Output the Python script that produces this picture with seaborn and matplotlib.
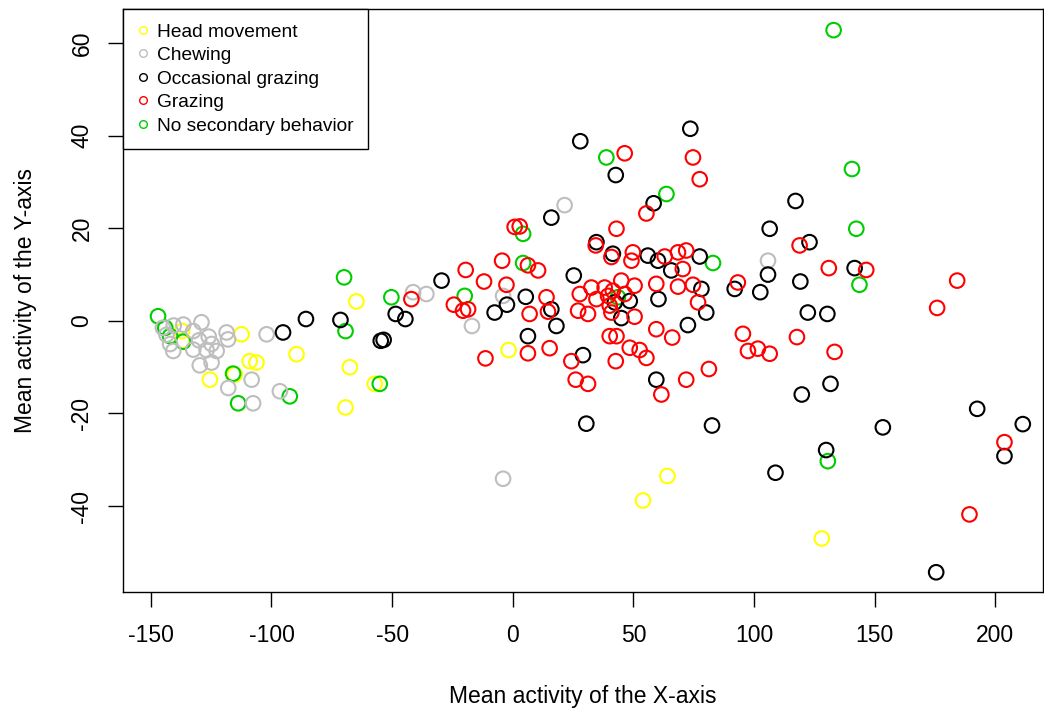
import pandas as pd
import seaborn as sns
import matplotlib
matplotlib.use("Agg")
from matplotlib import pyplot as plt
from matplotlib.lines import Line2D

# values
head_x = [-137, -137, -112.4, -89.6, -109, -106.2, -125.5, -115.2, -64.8, -67.5,
          -57.2, -69.3, -1.7, 64.1, 54, 128.1]
head_y = [-2.2, -4.3, -2.9, -7.2, -8.7, -9, -12.7, -11.6, 4.2, -10,
          -13.6, -18.7, -6.3, -33.5, -38.8, -47]

chew_x = [-145, -143.5, -142, -140.7, -140.5, -136.5, -129, -132.4, -126, -130,
          -124.8, -126.9, -122.7, -132.4, -129.7, -124.8, -118.6, -118, -102, -108.2,
          -117.9, -96.5, -107.6, -41.3, -35.8, -16.9, -4, 21.5, 105.8, -4]
chew_y = [-1.5, -3.0, -5.0, -6.5, -1.0, -0.8, -0.3, -2.2, -3.4, -4.2,
          -5.0, -6.3, -6.5, -6.2, -9.6, -9.0, -2.5, -4.0, -2.9, -12.7,
          -14.5, -15.2, -17.8, 6.2, 5.8, -1.1, 5.4, 25, 13, -34.1]

occ_x = [-95.2, -85.7, -71.4, -48.5, -44.5, -54.7, -53.5, -29.5, -7.5, -2.4,
         16, 58.4, 28, 42.7, 73.6, 34.7, 41.5, 56, 60.2, 65.7,
         72.6, 25.3, 5.4, 16, 18.1, 6.3, 29.1, 42.3, 48.5, 45,
         60.4, 59.5, 117.2, 106.5, 123, 77.5, 105.8, 141.7, 92, 102.6,
         119.2, 78.2, 80.2, 122.3, 130.4, 131.7, 119.8, 192.5, 153.4, 211.4,
         203.8, 175.5, 30.5, 82.6, 129.9, 108.9]
occ_y = [-2.5, 0.4, 0.2, 1.5, 0.4, -4.3, -4.1, 8.7, 1.8, 3.5,
         22.3, 25.4, 38.8, 31.5, 41.5, 17, 14.5, 14.1, 13, 10.9,
         -0.9, 9.8, 5.2, 2.5, -1.1, -3.3, -7.4, 4, 4.3, 0.6,
         4.7, -12.7, 25.9, 19.9, 17, 13.9, 10, 11.4, 6.9, 6.2,
         8.5, 6.9, 1.8, 1.8, 1.5, -13.6, -15.9, -19, -23, -22.3,
         -29.2, -54.3, -22.2, -22.6, -27.9, -32.8]

graz_x = [-42, -19.5, -11.9, -4.4, -2.6, -24.4, -20.6, -18.5, -11.3, 0.8,
          2.9, 55.4, 46.4, 74.7, 77.5, 43, 34.4, 40.9, 49.8, 49.2,
          63, 68.5, 71.9, 70.5, 68.5, 6.3, 10.5, 14, 14.6, 7,
          6.3, 15.3, 24.3, 26.1, 31.2, 32.6, 27.8, 38.1, 45, 50.5,
          34.7, 39.5, 41.5, 46.4, 40.2, 27.1, 31.2, 50.5, 40.9, 59.5,
          59.5, 66.1, 40.2, 43, 48.5, 52.6, 55.4, 42.7, 61.6, 71.9,
          118.9, 131, 146.5, 93.3, 74.7, 76.8, 95.4, 97.5, 101.6, 106.5,
          117.8, 133.4, 81.3, 184.2, 175.9, 203.8, 189.3]
graz_y = [4.7, 11, 8.5, 13, 7.8, 3.5, 2.2, 2.5, -8.1, 20.3,
          20.4, 23.2, 36.2, 35.3, 30.6, 19.9, 16.3, 13.8, 14.8, 13,
          13.9, 14.8, 15.2, 11.2, 7.4, 12, 10.9, 5.1, 2, 1.5,
          -7, -5.9, -8.7, -12.7, -13.6, 7.2, 5.8, 7.2, 8.7, 7.6,
          4.7, 5.4, 6.5, 5.8, 3.3, 2.2, 1.5, 0.9, 1.8, 8,
          -1.8, -3.6, -3.3, -3.3, -5.8, -6.3, -8, -8.7, -15.9, -12.7,
          16.3, 11.4, 11, 8.3, 7.8, 4, -2.8, -6.5, -6, -7.1,
          -3.5, -6.7, -10.4, 8.7, 2.8, -26.2, -41.8]

none_x = [-147, -144, -142, -136.6, -115.9, -113.8, -92.4, -69.9, -69.3, -50.3,
          -55.1, -19.9, 4.3, 4.3, 63.7, 38.8, 133, 140.6, 142.4, 83,
          143.7, 43.6, 130.6]
none_y = [1, -1.5, -3.3, -4.5, -11.4, -17.8, -16.3, 9.4, -2.2, 5.1,
          -13.6, 5.4, 18.8, 12.5, 27.4, 35.3, 62.8, 32.8, 19.9, 12.5,
          7.8, 5.1, -30.3]

labels = ["Head movement", "Chewing", "Occasional grazing", "Grazing", "No secondary behavior"]
colors = ["#FFFF00", "#BEBEBE", "#000000", "#FF0000", "#00CD00"]
palette = dict(zip(labels, colors))

# drawing order (later ones sit on top)
groups = [("Head movement", head_x, head_y),
          ("No secondary behavior", none_x, none_y),
          ("Chewing", chew_x, chew_y),
          ("Occasional grazing", occ_x, occ_y),
          ("Grazing", graz_x, graz_y)]
df = pd.concat([pd.DataFrame({"x": gx, "y": gy, "behavior": name}) for name, gx, gy in groups],
               ignore_index=True)

sns.set_style("white")
plt.rcParams["font.family"] = ["Liberation Sans", "DejaVu Sans"]
plt.rcParams["axes.unicode_minus"] = False
plt.rcParams["text.color"] = "black"
plt.rcParams["axes.labelcolor"] = "black"

fig = plt.figure(figsize=(10.44, 7.10), dpi=100)
ax = fig.add_axes([0.1181, 0.1666, 0.881, 0.8203])

sns.scatterplot(data=df, x="x", y="y", hue="behavior", palette=palette,
                marker="o", s=110, linewidth=1.5, legend=False, ax=ax)
# hollow circles like R's pch=1
pts = ax.collections[0]
fc = pts.get_facecolors()
pts.set_edgecolors(fc)
pts.set_facecolors("none")

ax.set_xlim(-161.4, 219.8)
ax.set_ylim(-58.5, 67.3)
ax.set_xticks([-150, -100, -50, 0, 50, 100, 150, 200])
ax.set_yticks([-40, -20, 0, 20, 40, 60])
ax.tick_params(axis="both", direction="out", length=10.5, width=1, colors="black",
               labelsize=16.5, left=True, bottom=True)
ax.tick_params(axis="x", pad=13)
ax.tick_params(axis="y", pad=11)
for lab in ax.get_yticklabels():
    lab.set_rotation(90)
    lab.set_va("center")
for sp in ax.spines.values():
    sp.set_visible(True)
    sp.set_color("black")
    sp.set_linewidth(1)

ax.set_xlabel("Mean activity of the X-axis", fontsize=16.5, color="black")
ax.set_ylabel("Mean activity of the Y-axis", fontsize=16.5, color="black")
ax.xaxis.set_label_coords(0.5, -0.16)
ax.yaxis.set_label_coords(-0.094, 0.5)

handles = [Line2D([], [], marker="o", linestyle="none", markersize=5.5,
                  markerfacecolor="none", markeredgecolor=c, markeredgewidth=1)
           for c in colors]
leg = ax.legend(handles, labels, loc="upper left", bbox_to_anchor=(0, 1),
                borderaxespad=0, fancybox=False, framealpha=1, fontsize=13.8,
                handlelength=0.6, handletextpad=0.45, labelspacing=0.32,
                borderpad=0.72, edgecolor="black")
leg.get_frame().set_linewidth(1)
for t in leg.get_texts():
    t.set_color("black")

fig.savefig("out.png", dpi=100)
